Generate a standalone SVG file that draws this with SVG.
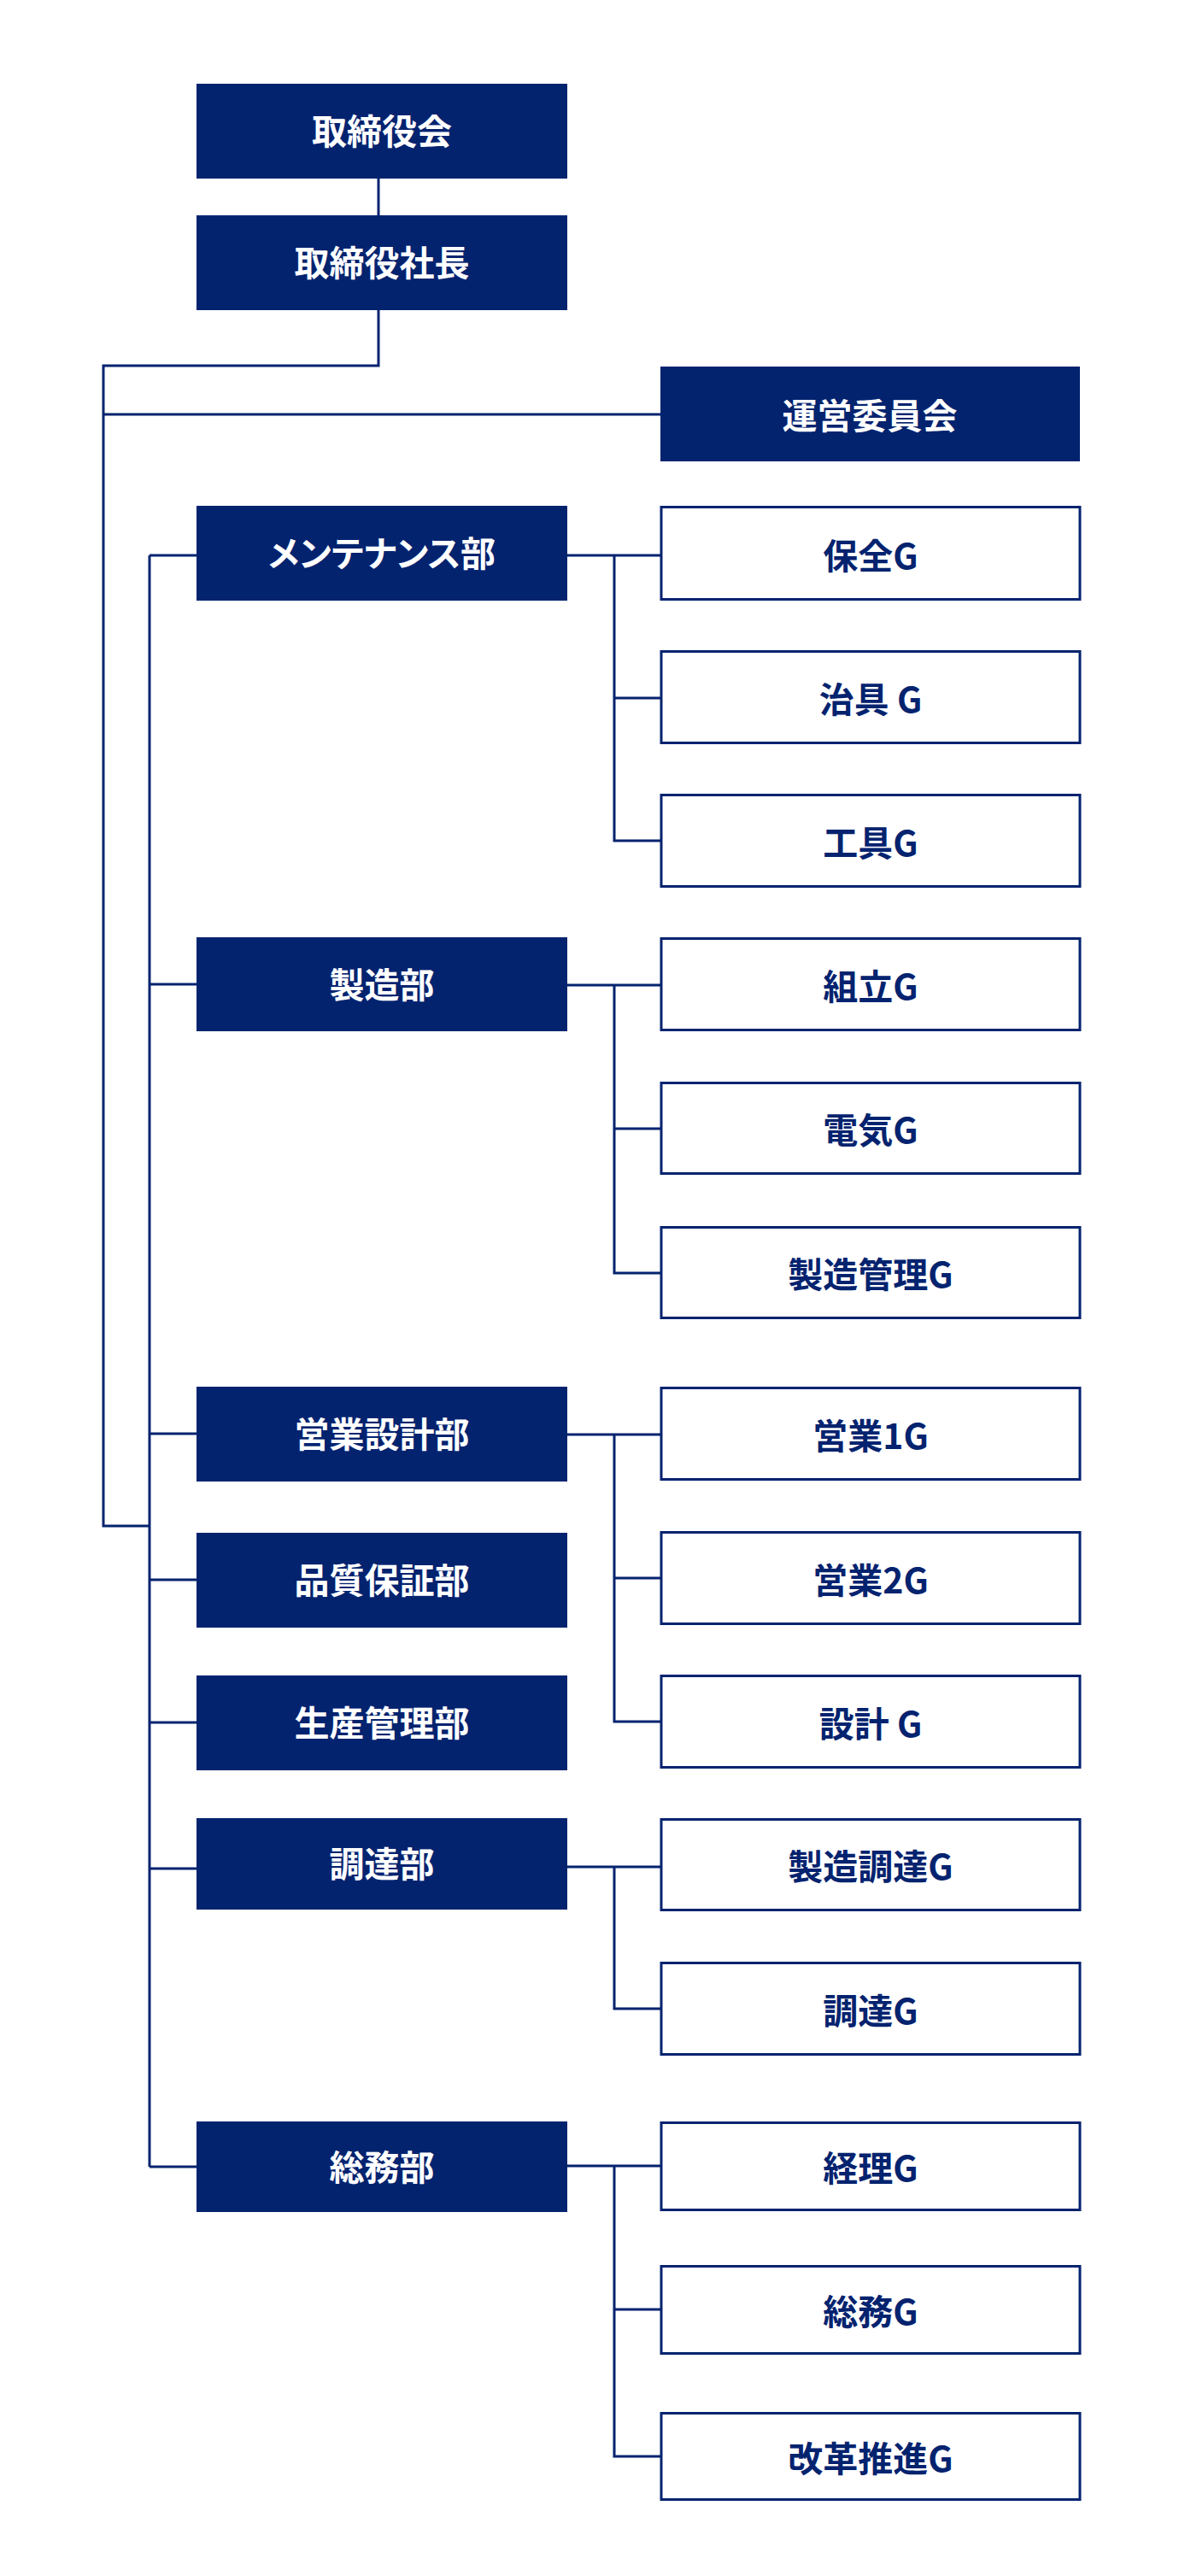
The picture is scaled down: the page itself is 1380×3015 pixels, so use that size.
<svg xmlns="http://www.w3.org/2000/svg" width="1380" height="3015" viewBox="0 0 1380 3015">
<style>
.f{fill:#04236F}
.o{fill:#fff;stroke:#04236F;stroke-width:3}
.t{font-family:"Noto Sans CJK JP","Noto Sans",sans-serif;font-weight:700;font-size:41px;text-anchor:middle;dominant-baseline:central}
.tw{fill:#fff}
.tn{fill:#04236F}
.p{font-feature-settings:"palt"}
#connectors path{fill:none;stroke:#04236F;stroke-width:3}
</style>
<rect width="1380" height="3015" fill="#fff"/>
<g id="connectors">
<path d="M443,209V252"/>
<path d="M443,363V428H121V1786H175"/>
<path d="M121,485H773"/>
<path d="M175,650V2536"/>
<path d="M175,650H230M175,1152H230M175,1678H230M175,1849H230M175,2016H230M175,2187H230M175,2536H230"/>
<path d="M664,650H774M719,650V984H774M719,817H774"/>
<path d="M664,1153H774M719,1153V1490H774M719,1321H774"/>
<path d="M664,1679H774M719,1679V2015H774M719,1847H774"/>
<path d="M664,2185H774M719,2185V2351H774"/>
<path d="M664,2535H774M719,2535V2875H774M719,2703H774"/>
</g>
<g id="n-board"><rect class="f" x="230" y="98" width="434" height="111"/><text class="t tw" x="447" y="151">取締役会</text></g>
<g id="n-president"><rect class="f" x="230" y="252" width="434" height="111"/><text class="t tw" x="447" y="305">取締役社長</text></g>
<g id="n-committee"><rect class="f" x="773" y="429" width="491" height="111"/><text class="t tw" x="1018" y="484">運営委員会</text></g>

<g id="n-maint"><rect class="f" x="230" y="592" width="434" height="111"/><text class="t tw p" x="447" y="645">メンテナンス部</text></g>
<g id="n-mfg"><rect class="f" x="230" y="1097" width="434" height="110"/><text class="t tw" x="447" y="1150">製造部</text></g>
<g id="n-sales"><rect class="f" x="230" y="1623" width="434" height="111"/><text class="t tw" x="447" y="1676">営業設計部</text></g>
<g id="n-qa"><rect class="f" x="230" y="1794" width="434" height="111"/><text class="t tw" x="447" y="1847">品質保証部</text></g>
<g id="n-pc"><rect class="f" x="230" y="1961" width="434" height="111"/><text class="t tw" x="447" y="2014">生産管理部</text></g>
<g id="n-proc"><rect class="f" x="230" y="2128" width="434" height="107"/><text class="t tw" x="447" y="2179">調達部</text></g>
<g id="n-ga"><rect class="f" x="230" y="2483" width="434" height="106"/><text class="t tw" x="447" y="2534">総務部</text></g>

<g id="n-hozen"><rect class="o" x="774" y="593.5" width="490" height="108"/><text class="t tn" x="1019" y="648">保全G</text></g>
<g id="n-jigu"><rect class="o" x="774" y="762.5" width="490" height="107"/><text class="t tn" x="1019" y="816">治具 G</text></g>
<g id="n-kogu"><rect class="o" x="774" y="930.5" width="490" height="107"/><text class="t tn" x="1019" y="984">工具G</text></g>
<g id="n-kumitate"><rect class="o" x="774" y="1098.5" width="490" height="107"/><text class="t tn" x="1019" y="1152">組立G</text></g>
<g id="n-denki"><rect class="o" x="774" y="1267.5" width="490" height="106"/><text class="t tn" x="1019" y="1320">電気G</text></g>
<g id="n-seizokanri"><rect class="o" x="774" y="1436.5" width="490" height="106"/><text class="t tn" x="1019" y="1489">製造管理G</text></g>
<g id="n-eigyo1"><rect class="o" x="774" y="1624.5" width="490" height="107"/><text class="t tn" x="1019" y="1678">営業1G</text></g>
<g id="n-eigyo2"><rect class="o" x="774" y="1793.5" width="490" height="107"/><text class="t tn" x="1019" y="1847">営業2G</text></g>
<g id="n-sekkei"><rect class="o" x="774" y="1961.5" width="490" height="107"/><text class="t tn" x="1019" y="2015">設計 G</text></g>
<g id="n-seizochotatsu"><rect class="o" x="774" y="2129.5" width="490" height="106"/><text class="t tn" x="1019" y="2182">製造調達G</text></g>
<g id="n-chotatsu"><rect class="o" x="774" y="2297.5" width="490" height="107"/><text class="t tn" x="1019" y="2351">調達G</text></g>
<g id="n-keiri"><rect class="o" x="774" y="2484.5" width="490" height="102"/><text class="t tn" x="1019" y="2535">経理G</text></g>
<g id="n-somu"><rect class="o" x="774" y="2652.5" width="490" height="102"/><text class="t tn" x="1019" y="2703">総務G</text></g>
<g id="n-kaikaku"><rect class="o" x="774" y="2824.5" width="490" height="101"/><text class="t tn" x="1019" y="2875">改革推進G</text></g>
</svg>
